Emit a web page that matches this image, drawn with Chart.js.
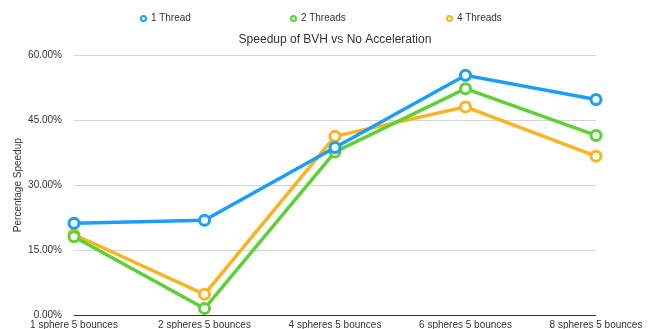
<!DOCTYPE html>
<html>
<head>
<meta charset="utf-8">
<script src="https://cdn.jsdelivr.net/npm/chart.js@4"></script>
<style>
  html, body { margin: 0; padding: 0; background: #fff; }
  #wrap { position: relative; width: 650px; height: 329px; }
  #leyenda { position: absolute; left: 0; top: 0; width: 650px; height: 26px;
             font: 10px 'Liberation Sans', Arial, sans-serif; color: #333; }
  .item { position: absolute; top: 12px; height: 12px; line-height: 12px; white-space: nowrap; }
  .punto { position: absolute; left: -4px; top: 2.5px; width: 7px; height: 7px;
           box-sizing: border-box; border: 2px solid; border-radius: 50%; background: #fff; }
  .texto { position: absolute; left: 7px; top: 0; }
</style>
</head>
<body>
<div id="wrap">
  <canvas id="grafica"></canvas>
  <div id="leyenda"></div>
</div>
<script>
// Datos
const categorias = ['1 sphere 5 bounces', '2 spheres 5 bounces', '4 spheres 5 bounces', '6 spheres 5 bounces', '8 spheres 5 bounces'];
const unHilo = [21.2, 21.9, 38.7, 55.4, 49.8];
const dosHilos = [18.1, 1.5, 37.7, 52.3, 41.5];
const cuatroHilos = [18.6, 4.8, 41.3, 48.1, 36.7];
const ticksY = [0, 15, 30, 45, 60];

const fuente = 'Liberation Sans, Arial, Helvetica, sans-serif';
const posLeyenda = [144, 294, 450]; // centro del icono de cada serie

function serie(nombre, datos, color) {
    return {
        label: nombre,
        data: datos,
        borderColor: color,
        backgroundColor: color,
        borderWidth: 3.5,
        pointStyle: 'circle',
        pointRadius: 5,
        pointBorderWidth: 3,
        pointBackgroundColor: '#fff',
        pointBorderColor: color,
        tension: 0
    };
}

const ctx = document.getElementById('grafica').getContext('2d');
const grafica = new Chart(ctx, {
    type: 'line',
    data: {
        labels: categorias,
        datasets: [
            serie('1 Thread', unHilo, '#1a9ef7'),
            serie('2 Threads', dosHilos, '#5dd134'),
            serie('4 Threads', cuatroHilos, '#fbb421')
        ]
    },
    options: {
        responsive: true,
        maintainAspectRatio: false,
        animation: false,
        layout: { padding: { left: 4, right: 54, top: 26, bottom: 0 } },
        plugins: {
            legend: { display: false },
            title: {
                display: true,
                fullSize: false,
                text: 'Speedup of BVH vs No Acceleration',
                color: '#333',
                font: { family: fuente, size: 12, weight: 'normal' },
                padding: { top: 6, bottom: 9 }
            },
            tooltip: { enabled: false }
        },
        scales: {
            x: {
                offset: false,
                grid: { display: false, drawTicks: false },
                border: { display: false },
                afterFit: function (eje) {
                    eje.height = 14;
                },
                ticks: {
                    color: '#333',
                    padding: 4,
                    maxRotation: 0,
                    autoSkip: false,
                    font: { family: fuente, size: 10 }
                }
            },
            y: {
                min: 0,
                max: 60,
                afterBuildTicks: function (eje) {
                    eje.ticks = ticksY.map(v => ({ value: v }));
                },
                afterFit: function (eje) {
                    eje.width = 70;
                    eje.paddingBottom = 0; // sin margen extra bajo el eje
                },
                border: { display: false },
                grid: {
                    drawTicks: false,
                    lineWidth: 1,
                    color: c => c.tick && c.tick.value === 0 ? '#333' : '#d4d4d4'
                },
                ticks: {
                    color: '#333',
                    padding: 12,
                    font: { family: fuente, size: 10 },
                    callback: v => v.toFixed(2) + '%'
                },
                title: {
                    display: true,
                    text: 'Percentage Speedup',
                    color: '#333',
                    font: { family: fuente, size: 10 },
                    padding: { top: 8, bottom: 0 }
                }
            }
        }
    }
});

// Leyenda en HTML con separacion amplia
const leyenda = document.getElementById('leyenda');
grafica.data.datasets.forEach((d, i) => {
    const item = document.createElement('div');
    item.className = 'item';
    item.style.left = posLeyenda[i] + 'px';
    const punto = document.createElement('span');
    punto.className = 'punto';
    punto.style.borderColor = d.borderColor;
    const texto = document.createElement('span');
    texto.className = 'texto';
    texto.textContent = d.label;
    item.appendChild(punto);
    item.appendChild(texto);
    leyenda.appendChild(item);
});
</script>
</body>
</html>
